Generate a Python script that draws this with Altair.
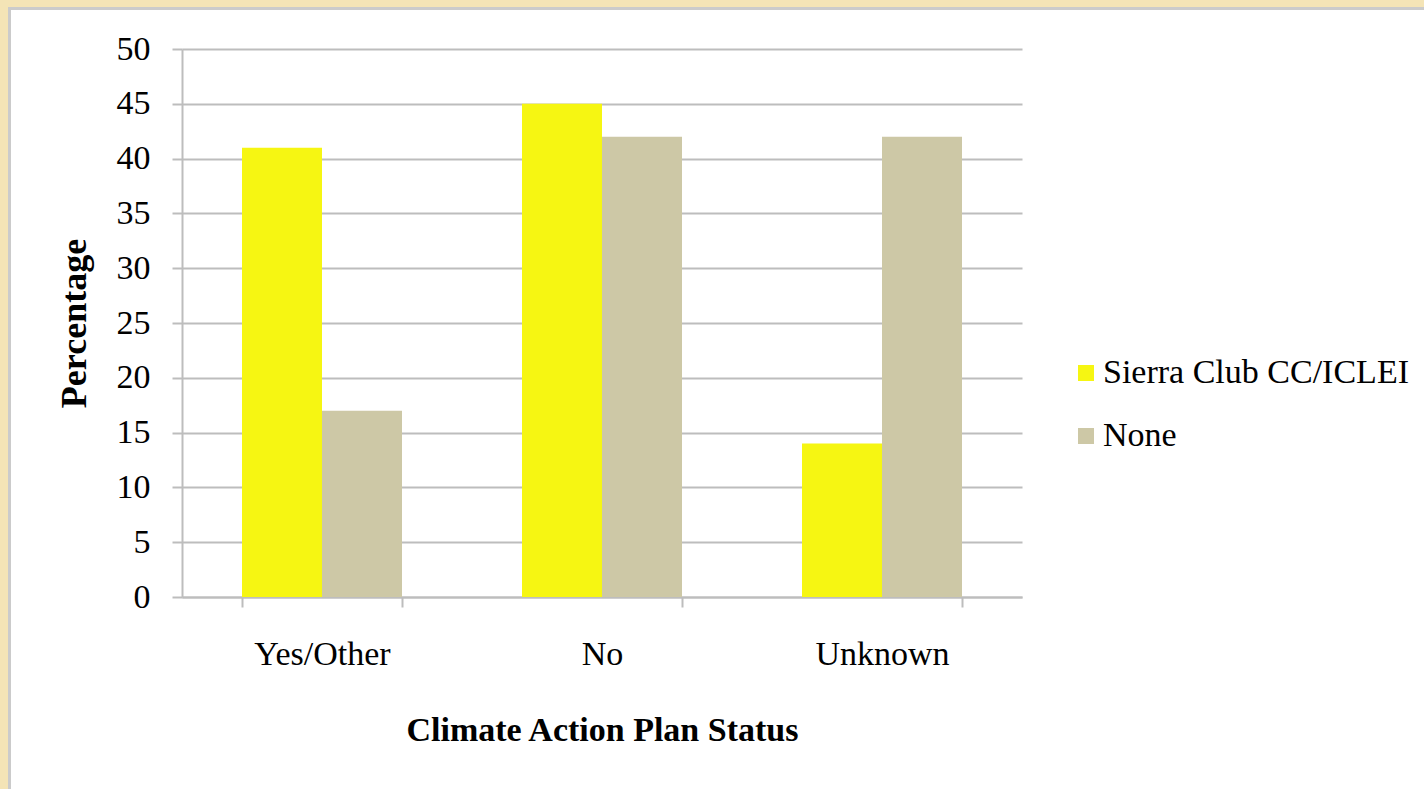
import altair as alt
import pandas as pd

# Climate action plan status by network membership (percent of cities)
statuses = ["Yes/Other", "No", "Unknown"]
groups = ["Sierra Club CC/ICLEI", "None"]
sierra_pct = [41, 45, 14]
none_pct = [17, 42, 42]
y_ticks = list(range(0, 51, 5))

colors = ["#f6f612", "#cdc8a6"]
grid_gray = "#bdbdbd"
serif = "Liberation Serif"

rows = []
for s, a, b in zip(statuses, sierra_pct, none_pct):
    rows.append({"status": s, "group": groups[0], "pct": a})
    rows.append({"status": s, "group": groups[1], "pct": b})
df = pd.DataFrame(rows)

W, H = 840, 548
OX, OY = 182, 49  # plot origin inside the page
PAGE_W, PAGE_H = 1424, 789

bars = alt.Chart(df).mark_bar().encode(
    x=alt.X(
        "status:N",
        sort=statuses,
        scale=alt.Scale(paddingInner=0.4286, paddingOuter=0.2143),
        axis=alt.Axis(
            title="Climate Action Plan Status",
            labelAngle=0,
            tickBand="extent",
            tickSize=10,
            tickColor=grid_gray,
            tickWidth=2,
            domainColor=grid_gray,
            domainWidth=2,
            labelPadding=30,
            titlePadding=42,
            grid=False,
        ),
    ),
    xOffset=alt.XOffset(
        "group:N", sort=groups, scale=alt.Scale(paddingInner=0, paddingOuter=0)
    ),
    y=alt.Y(
        "pct:Q",
        scale=alt.Scale(domain=[0, 50], nice=False),
        axis=alt.Axis(
            title="Percentage",
            titleFontSize=36,
            values=y_ticks,
            grid=True,
            gridColor=grid_gray,
            gridWidth=2,
            tickSize=10,
            tickColor=grid_gray,
            tickWidth=2,
            domainColor=grid_gray,
            domainWidth=2,
            labelPadding=22,
            titlePadding=23,
        ),
    ),
    color=alt.Color(
        "group:N",
        sort=groups,
        scale=alt.Scale(domain=groups, range=colors),
        legend=alt.Legend(
            title=None,
            orient="none",
            legendX=1069 - OX,
            legendY=356 - OY,
            symbolType="square",
            symbolSize=256,
            symbolStrokeWidth=0,
            labelOffset=0,
            rowPadding=29,
            padding=0,
        ),
    ),
)

# page frame: beige border strips with a grey edge along the white panel
frame_data = alt.Data(values=[{}])
beige = "#f4e4b6"
edge = "#cbcbcb"
top_strip = alt.Chart(frame_data).mark_rect(color=beige).encode(
    x=alt.value(-OX), x2=alt.value(PAGE_W - OX), y=alt.value(-OY), y2=alt.value(7 - OY)
)
left_strip = alt.Chart(frame_data).mark_rect(color=beige).encode(
    x=alt.value(-OX), x2=alt.value(8 - OX), y=alt.value(-OY), y2=alt.value(PAGE_H - OY)
)
top_edge = alt.Chart(frame_data).mark_rect(color=edge).encode(
    x=alt.value(8 - OX), x2=alt.value(PAGE_W - OX), y=alt.value(7 - OY), y2=alt.value(10 - OY)
)
left_edge = alt.Chart(frame_data).mark_rect(color=edge).encode(
    x=alt.value(8 - OX), x2=alt.value(11 - OX), y=alt.value(7 - OY), y2=alt.value(PAGE_H - OY)
)

chart = (
    alt.layer(top_strip, left_strip, top_edge, left_edge, bars)
    .properties(width=W, height=H, padding=0, background="white")
    .configure_view(strokeWidth=0)
    .configure_axis(
        labelFont=serif,
        labelFontSize=34,
        labelColor="black",
        titleFont=serif,
        titleFontSize=34,
        titleFontWeight="bold",
        titleColor="black",
    )
    .configure_legend(labelFont=serif, labelFontSize=34, labelColor="black", labelLimit=0)
)

chart.save("out.html", embed_options={"renderer": "svg", "actions": False})
